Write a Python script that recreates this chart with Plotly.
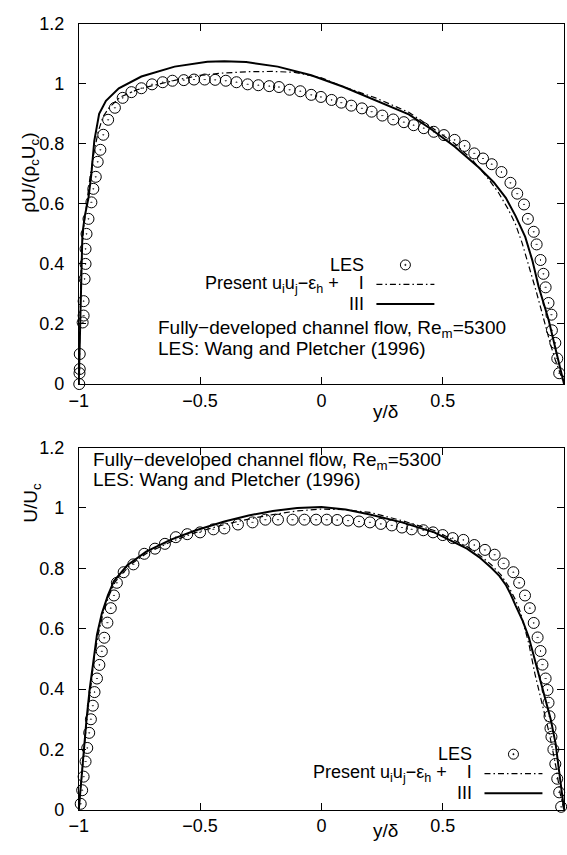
import plotly.graph_objects as go

# ---------------- data ----------------
# Top panel: rho U / (rho_c U_c)
top_les_x = [-0.998, -0.997, -0.996, -0.996, -0.984, -0.980, -0.980, -0.976, -0.972, -0.972, -0.968, -0.960,
             -0.948, -0.940, -0.930, -0.922, -0.911, -0.899, -0.879, -0.851, -0.819, -0.783, -0.742, -0.698,
             -0.654, -0.614, -0.567, -0.525, -0.481, -0.438, -0.394, -0.350, -0.304, -0.260, -0.215, -0.175,
             -0.131, -0.087, -0.042, -0.002, 0.042, 0.082, 0.123, 0.167, 0.207, 0.251, 0.296, 0.340, 0.380,
             0.422, 0.463, 0.505, 0.549, 0.590, 0.630, 0.666, 0.702, 0.742, 0.779, 0.807, 0.835, 0.851, 0.875,
             0.887, 0.903, 0.915, 0.924, 0.936, 0.948, 0.950, 0.964, 0.972, 0.980]
top_les_y = [0.0, 0.036, 0.05, 0.10, 0.205, 0.228, 0.276, 0.35, 0.40, 0.45, 0.50, 0.55,
             0.605, 0.65, 0.69, 0.74, 0.78, 0.83, 0.88, 0.92, 0.953, 0.972, 0.985, 0.998,
             1.005, 1.01, 1.012, 1.014, 1.014, 1.013, 1.01, 1.005, 0.998, 0.995, 0.992, 0.989,
             0.98, 0.975, 0.963, 0.956, 0.946, 0.937, 0.927, 0.918, 0.907, 0.894, 0.881, 0.872, 0.862,
             0.852, 0.84, 0.829, 0.813, 0.793, 0.768, 0.751, 0.732, 0.706, 0.670, 0.634, 0.598, 0.55, 0.507,
             0.465, 0.413, 0.367, 0.322, 0.27, 0.231, 0.179, 0.137, 0.085, 0.036]

top_I_x = [-1.0, -0.995, -0.99, -0.98, -0.968, -0.955, -0.94, -0.92, -0.9, -0.875, -0.83, -0.76, -0.7,
           -0.6, -0.5, -0.4, -0.3, -0.2, -0.11, 0.0, 0.09, 0.223, 0.36, 0.45, 0.55, 0.62, 0.68, 0.73,
           0.77, 0.8, 0.827, 0.855, 0.883, 0.905, 0.924, 0.945, 0.964, 0.985, 1.0]
top_I_y = [0.0, 0.2, 0.4, 0.52, 0.6, 0.68, 0.76, 0.84, 0.89, 0.92, 0.955, 0.98, 0.993,
           1.012, 1.028, 1.036, 1.04, 1.041, 1.038, 1.02, 0.99, 0.953, 0.905, 0.857, 0.80, 0.748, 0.692, 0.637,
           0.582, 0.532, 0.47, 0.395, 0.315, 0.25, 0.19, 0.13, 0.08, 0.03, 0.0]

top_III_x = [-1.0, -0.995, -0.99, -0.985, -0.975, -0.96, -0.948, -0.936, -0.916, -0.888, -0.835, -0.742,
             -0.605, -0.47, -0.4, -0.31, -0.18, -0.042, 0.09, 0.223, 0.36, 0.45, 0.55, 0.65, 0.71, 0.76, 0.80,
             0.84, 0.87, 0.895, 0.936, 0.968, 0.99, 1.0]
top_III_y = [0.0, 0.2, 0.4, 0.5, 0.56, 0.62, 0.70, 0.81, 0.90, 0.943, 0.985, 1.024,
             1.057, 1.073, 1.075, 1.072, 1.057, 1.028, 0.99, 0.946, 0.898, 0.85, 0.79, 0.72, 0.672, 0.62, 0.56,
             0.49, 0.41, 0.325, 0.215, 0.107, 0.03, 0.0]

# Bottom panel: U / U_c
bot_les_x = [-0.992, -0.986, -0.980, -0.972, -0.965, -0.957, -0.950, -0.942, -0.935, -0.925, -0.915, -0.905,
             -0.895, -0.882, -0.868, -0.855, -0.843, -0.815, -0.775, -0.730, -0.686, -0.645, -0.600, -0.553,
             -0.500, -0.445, -0.400, -0.344, -0.284, -0.231, -0.179, -0.119, -0.070, -0.022, 0.022, 0.065,
             0.110, 0.155, 0.200, 0.245, 0.290, 0.332, 0.372, 0.420, 0.460, 0.500, 0.541, 0.585, 0.630,
             0.674, 0.714, 0.751, 0.791, 0.815, 0.839, 0.859, 0.875, 0.891, 0.903, 0.911, 0.924, 0.932,
             0.936, 0.940, 0.944, 0.948, 0.956, 0.964, 0.972, 0.980, 0.988]
bot_les_y = [0.02, 0.065, 0.11, 0.16, 0.205, 0.255, 0.30, 0.345, 0.39, 0.435, 0.48, 0.525,
             0.57, 0.62, 0.668, 0.71, 0.752, 0.787, 0.813, 0.848, 0.865, 0.881, 0.903, 0.913,
             0.919, 0.929, 0.932, 0.945, 0.952, 0.961, 0.961, 0.961, 0.961, 0.961, 0.961, 0.96,
             0.958, 0.955, 0.952, 0.947, 0.942, 0.935, 0.929, 0.926, 0.919, 0.910, 0.90, 0.894, 0.877,
             0.861, 0.845, 0.816, 0.787, 0.752, 0.71, 0.668, 0.619, 0.571, 0.526, 0.481, 0.435, 0.397,
             0.355, 0.31, 0.27, 0.242, 0.2, 0.152, 0.103, 0.058, 0.01]

bot_I_x = [-1.0, -0.99, -0.978, -0.966, -0.952, -0.937, -0.92, -0.9, -0.875, -0.85, -0.79, -0.72, -0.62,
           -0.52, -0.4, -0.3, -0.2, -0.1, 0.0, 0.1, 0.2, 0.332, 0.465, 0.6, 0.65, 0.7, 0.74, 0.77, 0.80,
           0.82, 0.855, 0.88, 0.91, 0.94, 0.965, 0.985, 1.0]
bot_I_y = [0.0, 0.1, 0.2, 0.3, 0.4, 0.5, 0.58, 0.65, 0.71, 0.755, 0.81, 0.85, 0.888,
           0.918, 0.945, 0.963, 0.978, 0.99, 0.996, 0.994, 0.985, 0.958, 0.925, 0.872, 0.845, 0.812, 0.778,
           0.742, 0.695, 0.655, 0.55, 0.45, 0.35, 0.25, 0.15, 0.05, 0.0]

bot_III_x = [-1.0, -0.99, -0.98, -0.968, -0.955, -0.94, -0.925, -0.905, -0.88, -0.855, -0.8, -0.722, -0.62,
             -0.52, -0.4, -0.3, -0.2, -0.1, 0.0, 0.1, 0.2, 0.332, 0.465, 0.6, 0.65, 0.7, 0.734, 0.76, 0.78,
             0.8, 0.83, 0.855, 0.887, 0.915, 0.945, 0.965, 0.98, 0.99, 1.0]
bot_III_y = [0.0, 0.1, 0.2, 0.3, 0.4, 0.5, 0.58, 0.65, 0.71, 0.758, 0.81, 0.855, 0.895,
             0.925, 0.955, 0.975, 0.99, 1.0, 1.003, 0.995, 0.978, 0.952, 0.919, 0.865, 0.837, 0.802, 0.774,
             0.745, 0.714, 0.677, 0.625, 0.571, 0.474, 0.387, 0.3, 0.22, 0.12, 0.05, 0.0]

x_ticks = [-1, -0.5, 0, 0.5, 1]
x_ticktext = ["\u22121", "\u22120.5", "0", "0.5", "1"]
y_ticks = [0, 0.2, 0.4, 0.6, 0.8, 1.0, 1.2]
y_ticktext = ["0", "0.2", "0.4", "0.6", "0.8", "1", "1.2"]

# ---------------- layout geometry ----------------
W, H = 567, 855
FONT = "Liberation Sans, Arial, Helvetica, sans-serif"
FS_TICK = 18
FS = 19
FS_KEY = 18
XL, XR = 70, 564          # plot area left/right in px
TOP_T, TOP_B = 14, 383    # top panel
BOT_T, BOT_B = 448, 819   # bottom panel

fig = go.Figure()

marker = dict(symbol="circle-open-dot", size=11, color="black", line=dict(width=1, color="black"))
dash_I = "6px,3px,1.5px,3px"

for xa, ya, lx, ly, ix, iy, sx, sy in [
    ("x", "y", top_les_x, top_les_y, top_I_x, top_I_y, top_III_x, top_III_y),
    ("x2", "y2", bot_les_x, bot_les_y, bot_I_x, bot_I_y, bot_III_x, bot_III_y),
]:
    fig.add_trace(go.Scatter(x=lx, y=ly, mode="markers", marker=marker, xaxis=xa, yaxis=ya,
                             showlegend=False, cliponaxis=False))
    fig.add_trace(go.Scatter(x=ix, y=iy, mode="lines", xaxis=xa, yaxis=ya, showlegend=False,
                             line=dict(color="black", width=1.2, dash=dash_I)))
    fig.add_trace(go.Scatter(x=sx, y=sy, mode="lines", xaxis=xa, yaxis=ya, showlegend=False,
                             line=dict(color="black", width=2)))

axis_common = dict(range=[-1, 1], showline=True, linecolor="black", linewidth=1, mirror="allticks",
                   ticks="inside", ticklen=7, tickcolor="black", tickwidth=1, showgrid=False,
                   zeroline=False, tickfont=dict(family=FONT, size=FS_TICK, color="black"))
yaxis_common = dict(axis_common, range=[0, 1.2], tickvals=y_ticks, ticktext=y_ticktext, ticklabelstandoff=10)
xaxis_common = dict(axis_common, tickvals=x_ticks, ticktext=x_ticktext)

xd = [XL / W, XR / W]
fig.update_layout(
    width=W, height=H, margin=dict(l=0, r=0, t=0, b=0),
    paper_bgcolor="white", plot_bgcolor="white",
    font=dict(family=FONT, size=FS, color="black"),
    xaxis=dict(xaxis_common, domain=xd, anchor="y"),
    yaxis=dict(yaxis_common, domain=[1 - TOP_B / H, 1 - TOP_T / H], anchor="x"),
    xaxis2=dict(xaxis_common, domain=xd, anchor="y2"),
    yaxis2=dict(yaxis_common, domain=[1 - BOT_B / H, 1 - BOT_T / H], anchor="x2"),
)

ann = []
def text(x, y, s, xanchor="left", size=FS, **kw):
    ann.append(dict(x=x, y=y, xref="paper", yref="paper", text=s, showarrow=False,
                    xanchor=xanchor, yanchor="middle", font=dict(family=FONT, size=size, color="black"), **kw))

# axis titles
text(20 / W, 1 - 167 / H, "\u03c1U/(\u03c1<sub>c</sub>U<sub>c</sub>)", xanchor="center", textangle=-90)
text(23 / W, 1 - 505 / H, "U/U<sub>c</sub>", xanchor="center", textangle=-90)
text(382 / W, 1 - 411 / H, "y/\u03b4", xanchor="center")
text(382 / W, 1 - 840 / H, "y/\u03b4", xanchor="center")

# panel notes
text(149 / W, 1 - 327 / H, "Fully\u2212developed channel flow, Re<sub>m</sub>=5300")
text(149 / W, 1 - 347 / H, "LES: Wang and Pletcher (1996)")
text(82 / W, 1 - 462 / H, "Fully\u2212developed channel flow, Re<sub>m</sub>=5300")
text(82 / W, 1 - 481 / H, "LES: Wang and Pletcher (1996)")

shapes = []
nb = "\u00a0"
present = "Present u<sub>i</sub>u<sub>j</sub>\u2212\u03b5<sub>h</sub> +" + nb * 4 + "I"
for (l0, l1, rows) in [(373, 432, (261, 281, 301)),
                       (483, 542, (762, 782, 802))]:
    tx = (l0 - 11) / W
    text(tx, 1 - rows[0] / H, "LES", xanchor="right", size=FS_KEY)
    text(tx, 1 - rows[1] / H, present, xanchor="right", size=FS_KEY)
    text(tx, 1 - rows[2] / H, "III", xanchor="right", size=FS_KEY)
    cx = (l0 + l1) / 2
    # circle sample
    shapes.append(dict(type="circle", xref="paper", yref="paper", xsizemode="pixel", ysizemode="pixel",
                       xanchor=cx / W, yanchor=1 - rows[0] / H, x0=-5, x1=5, y0=-5, y1=5,
                       line=dict(color="black", width=1)))
    shapes.append(dict(type="circle", xref="paper", yref="paper", xsizemode="pixel", ysizemode="pixel",
                       xanchor=cx / W, yanchor=1 - rows[0] / H, x0=-0.7, x1=0.7, y0=-0.7, y1=0.7,
                       fillcolor="black", line=dict(color="black", width=0.5)))
    shapes.append(dict(type="line", xref="paper", yref="paper", x0=l0 / W, x1=l1 / W,
                       y0=1 - rows[1] / H, y1=1 - rows[1] / H,
                       line=dict(color="black", width=1.2, dash=dash_I)))
    shapes.append(dict(type="line", xref="paper", yref="paper", x0=l0 / W, x1=l1 / W,
                       y0=1 - rows[2] / H, y1=1 - rows[2] / H,
                       line=dict(color="black", width=2)))

fig.update_layout(annotations=ann, shapes=shapes)
fig.write_html("out.html")
